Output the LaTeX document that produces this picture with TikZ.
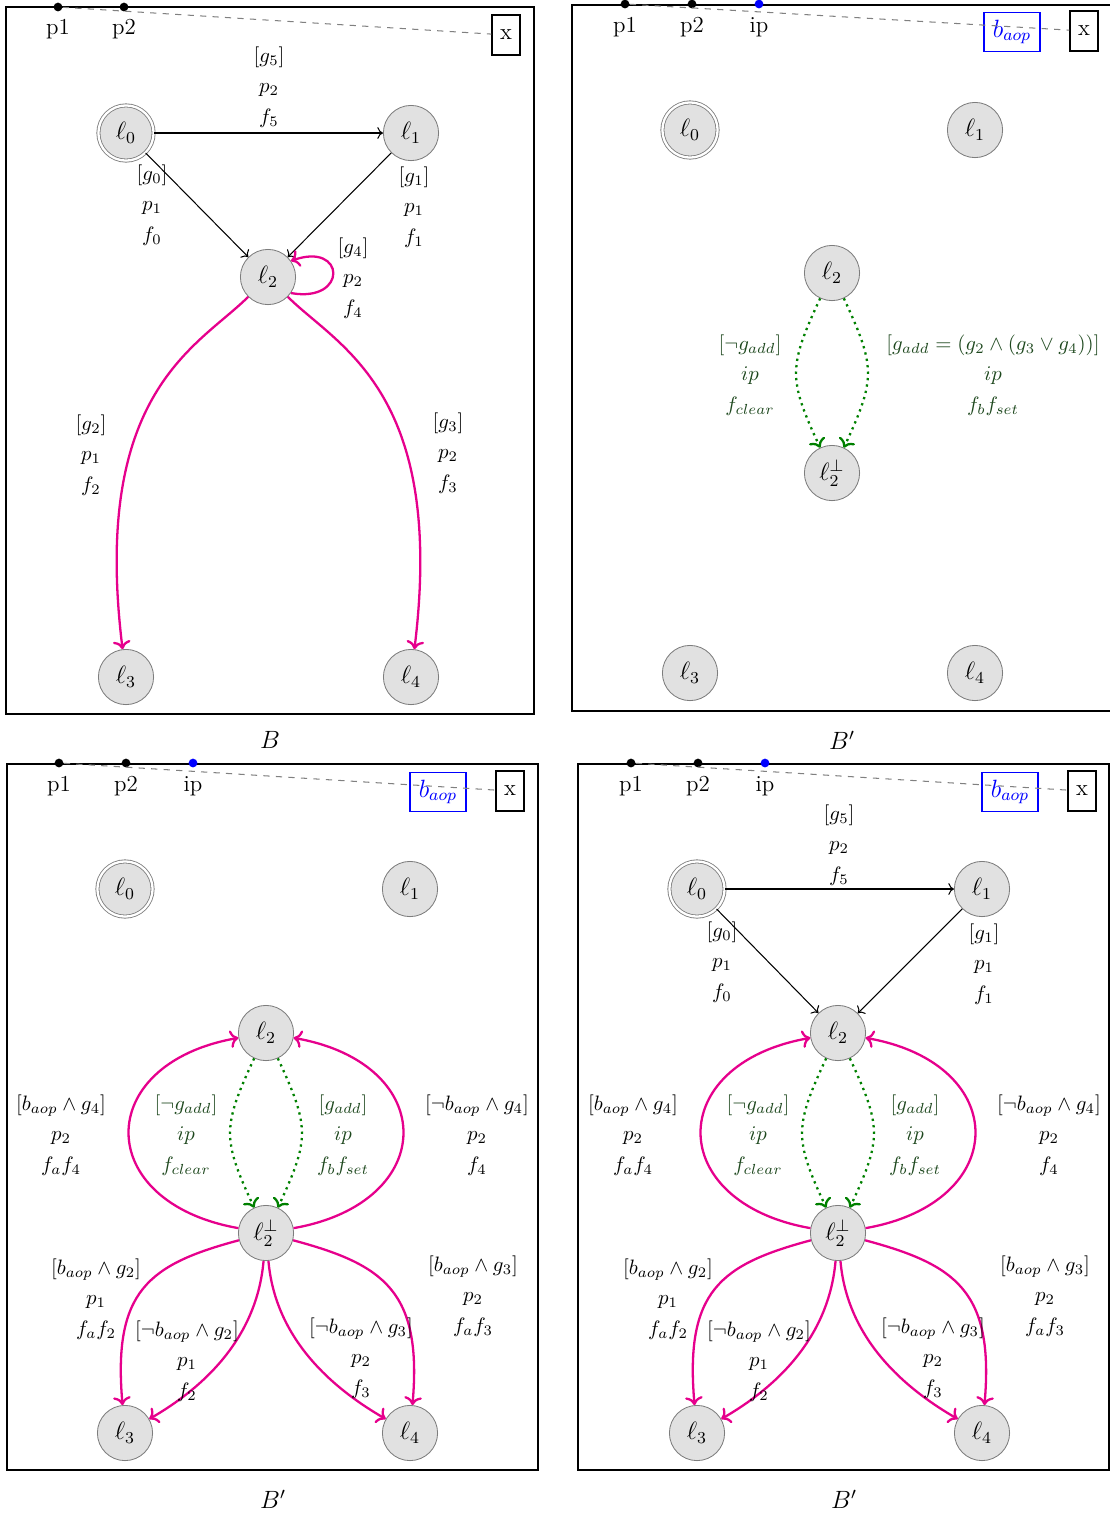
\documentclass[tikz,border=0pt]{standalone}
\usetikzlibrary{arrows.meta}
\definecolor{magc}{RGB}{230,0,140}
\definecolor{grnl}{RGB}{0,128,0}
\definecolor{grnt}{RGB}{30,72,30}
\definecolor{nodefill}{RGB}{225,225,225}
\definecolor{nodedraw}{RGB}{125,125,125}
\begin{document}
\begin{tikzpicture}[x=0.48pt,y=-0.48pt,
  loc/.style={circle,draw=nodedraw,fill=nodefill,minimum size=26.5pt,inner sep=0pt,font=\large},
  init/.style={loc,double=white,double distance=1.1pt},
  dotb/.style={circle,fill=black,inner sep=0pt,minimum size=4.2pt},
  dotblue/.style={dotb,fill=blue},
  toplbl/.style={font=\fontsize{11pt}{13pt}\selectfont,inner sep=1pt},
  xbox/.style={draw,line width=0.7pt,font=\fontsize{11pt}{13pt}\selectfont,minimum width=13.4pt,minimum height=19pt,inner sep=1pt},
  abox/.style={draw=blue,text=blue,line width=0.7pt,font=\large,minimum width=27pt,minimum height=18.5pt,inner sep=1pt},
  frm/.style={line width=0.7pt},
  dsh/.style={gray,dashed,line width=0.5pt},
  blk/.style={->,line width=0.5pt},
  mag/.style={->,magc,line width=1.1pt},
  grn/.style={->,grnl,dotted,line width=1.1pt},
  lbl/.style={align=center,font=\fontsize{10pt}{14.5pt}\selectfont,inner sep=0pt},
  glbl/.style={lbl,text=grnt},
  captxt/.style={font=\large}
]
\useasboundingbox (0,0) rectangle (1110,1515);

%% ================= Panel A =================
\draw[frm] (6,7) rectangle (534,714);
\node[dotb] (Ap1) at (58,7) {};
\node[dotb] (Ap2) at (124,7) {};
\node[toplbl] (Ap1l) at (58,29) {p1};
\node[toplbl] (Ap2l) at (124,29) {p2};
\node[xbox] (Ax) at (506,35) {x};
\draw[dsh] (Ap1) -- (Ax);
\node[init] (A0) at (126,133) {$\ell_0$};
\node[loc] (A1) at (411,133) {$\ell_1$};
\node[loc] (A2) at (268,277) {$\ell_2$};
\node[loc] (A3) at (126,677) {$\ell_3$};
\node[loc] (A4) at (411,677) {$\ell_4$};
\draw[blk] (A0) -- (A1);
\draw[blk] (A0) -- (A2);
\draw[blk] (A1) -- (A2);
\draw[mag] (A2.-35) to[out=-10,in=20,distance=28pt] (A2.35);
\draw[mag] (A2) to[out=225,in=97,out distance=33.6pt,in distance=125pt] (A3);
\draw[mag] (A2) to[out=-45,in=83,out distance=33.6pt,in distance=125pt] (A4);
\node[lbl] (Ag5) at (269,87) {$[g_5]$\\$p_2$\\$f_5$};
\node[lbl] (Ag0) at (152,205) {$[g_0]$\\$p_1$\\$f_0$};
\node[lbl] (Ag1) at (414,207) {$[g_1]$\\$p_1$\\$f_1$};
\node[lbl] (Ag4) at (353,278) {$[g_4]$\\$p_2$\\$f_4$};
\node[lbl] (Ag2) at (91,455) {$[g_2]$\\$p_1$\\$f_2$};
\node[lbl] (Ag3) at (448,453) {$[g_3]$\\$p_2$\\$f_3$};
\node[captxt] (Acap) at (270,740) {$B$};

%% ================= Panel B =================
\draw[frm] (572,5) rectangle (1125,711);
\node[dotb] (Bp1) at (625,4) {};
\node[dotb] (Bp2) at (692,4) {};
\node[dotblue] (Bip) at (759,4) {};
\node[toplbl] (Bp1l) at (625,27) {p1};
\node[toplbl] (Bp2l) at (692,27) {p2};
\node[toplbl] (Bipl) at (759,27) {ip};
\node[abox] (Bb) at (1012,32) {$b_{aop}$};
\node[xbox] (Bx) at (1084,31) {x};
\draw[dsh] (Bp1) -- (Bx);
\node[init] (B0) at (690,130) {$\ell_0$};
\node[loc] (B1) at (975,130) {$\ell_1$};
\node[loc] (B2) at (832,273) {$\ell_2$};
\node[loc] (B2b) at (832,473) {$\ell_2^{\perp}$};
\node[loc] (B3) at (690,673) {$\ell_3$};
\node[loc] (B4) at (975,673) {$\ell_4$};
\draw[grn] (B2) to[out=245,in=115,looseness=1.3] (B2b);
\draw[grn] (B2) to[out=-65,in=65,looseness=1.3] (B2b);
\node[glbl] (Bgl) at (750,375) {$[\neg g_{add}]$\\$ip$\\$f_{clear}$};
\node[glbl] (Bgr) at (993,375) {$[g_{add}=(g_2\wedge(g_3\vee g_4))]$\\$ip$\\$f_bf_{set}$};
\node[captxt] (Bcap) at (842,740) {$B'$};

%% ================= Panel C =================
\draw[frm] (7,764) rectangle (538,1470);
\node[dotb] (Cp1) at (59,763) {};
\node[dotb] (Cp2) at (126,763) {};
\node[dotblue] (Cip) at (193,763) {};
\node[toplbl] (Cp1l) at (59,786) {p1};
\node[toplbl] (Cp2l) at (126,786) {p2};
\node[toplbl] (Cipl) at (193,786) {ip};
\node[abox] (Cb) at (438,792) {$b_{aop}$};
\node[xbox] (Cx) at (510,791) {x};
\draw[dsh] (Cp1) -- (Cx);
\node[init] (C0) at (125,889) {$\ell_0$};
\node[loc] (C1) at (410,889) {$\ell_1$};
\node[loc] (C2) at (266,1033) {$\ell_2$};
\node[loc] (C2b) at (266,1233) {$\ell_2^{\perp}$};
\node[loc] (C3) at (125,1433) {$\ell_3$};
\node[loc] (C4) at (410,1433) {$\ell_4$};
\draw[grn] (C2) to[out=245,in=115,looseness=1.3] (C2b);
\draw[grn] (C2) to[out=-65,in=65,looseness=1.3] (C2b);
\draw[mag] (C2b) to[out=170,in=190,looseness=2] (C2);
\draw[mag] (C2b) to[out=10,in=-10,looseness=2] (C2);
\draw[mag] (C2b) to[out=195,in=95,out distance=45pt,in distance=55pt] (C3);
\draw[mag] (C2b) to[out=-95,in=30,out distance=38pt,in distance=29pt] (C3);
\draw[mag] (C2b) to[out=-85,in=150,out distance=38pt,in distance=29pt] (C4);
\draw[mag] (C2b) to[out=-15,in=85,out distance=45pt,in distance=55pt] (C4);
\node[lbl] (Cl4) at (61,1135) {$[b_{aop}\wedge g_4]$\\$p_2$\\$f_af_4$};
\node[glbl] (Cgl) at (186,1135) {$[\neg g_{add}]$\\$ip$\\$f_{clear}$};
\node[glbl] (Cgr) at (343,1135) {$[g_{add}]$\\$ip$\\$f_bf_{set}$};
\node[lbl] (Cr4) at (477,1135) {$[\neg b_{aop}\wedge g_4]$\\$p_2$\\$f_4$};
\node[lbl] (Cl2) at (96,1299) {$[b_{aop}\wedge g_2]$\\$p_1$\\$f_af_2$};
\node[lbl] (Cn2) at (187,1361) {$[\neg b_{aop}\wedge g_2]$\\$p_1$\\$f_2$};
\node[lbl] (Cn3) at (361,1358) {$[\neg b_{aop}\wedge g_3]$\\$p_2$\\$f_3$};
\node[lbl] (Cr3) at (473,1296) {$[b_{aop}\wedge g_3]$\\$p_2$\\$f_af_3$};
\node[captxt] (Ccap) at (273,1499) {$B'$};

%% ================= Panel D =================
\draw[frm] (578,764) rectangle (1109,1470);
\node[dotb] (Dp1) at (631,763) {};
\node[dotb] (Dp2) at (698,763) {};
\node[dotblue] (Dip) at (765,763) {};
\node[toplbl] (Dp1l) at (631,786) {p1};
\node[toplbl] (Dp2l) at (698,786) {p2};
\node[toplbl] (Dipl) at (765,786) {ip};
\node[abox] (Db) at (1010,792) {$b_{aop}$};
\node[xbox] (Dx) at (1082,791) {x};
\draw[dsh] (Dp1) -- (Dx);
\node[init] (D0) at (697,889) {$\ell_0$};
\node[loc] (D1) at (982,889) {$\ell_1$};
\node[loc] (D2) at (838,1033) {$\ell_2$};
\node[loc] (D2b) at (838,1233) {$\ell_2^{\perp}$};
\node[loc] (D3) at (697,1433) {$\ell_3$};
\node[loc] (D4) at (982,1433) {$\ell_4$};
\draw[blk] (D0) -- (D1);
\draw[blk] (D0) -- (D2);
\draw[blk] (D1) -- (D2);
\draw[grn] (D2) to[out=245,in=115,looseness=1.3] (D2b);
\draw[grn] (D2) to[out=-65,in=65,looseness=1.3] (D2b);
\draw[mag] (D2b) to[out=170,in=190,looseness=2] (D2);
\draw[mag] (D2b) to[out=10,in=-10,looseness=2] (D2);
\draw[mag] (D2b) to[out=195,in=95,out distance=45pt,in distance=55pt] (D3);
\draw[mag] (D2b) to[out=-95,in=30,out distance=38pt,in distance=29pt] (D3);
\draw[mag] (D2b) to[out=-85,in=150,out distance=38pt,in distance=29pt] (D4);
\draw[mag] (D2b) to[out=-15,in=85,out distance=45pt,in distance=55pt] (D4);
\node[lbl] (Dg5) at (839,845) {$[g_5]$\\$p_2$\\$f_5$};
\node[lbl] (Dg0) at (722,962) {$[g_0]$\\$p_1$\\$f_0$};
\node[lbl] (Dg1) at (984,964) {$[g_1]$\\$p_1$\\$f_1$};
\node[lbl] (Dl4) at (633,1135) {$[b_{aop}\wedge g_4]$\\$p_2$\\$f_af_4$};
\node[glbl] (Dgl) at (758,1135) {$[\neg g_{add}]$\\$ip$\\$f_{clear}$};
\node[glbl] (Dgr) at (915,1135) {$[g_{add}]$\\$ip$\\$f_bf_{set}$};
\node[lbl] (Dr4) at (1049,1135) {$[\neg b_{aop}\wedge g_4]$\\$p_2$\\$f_4$};
\node[lbl] (Dl2) at (668,1299) {$[b_{aop}\wedge g_2]$\\$p_1$\\$f_af_2$};
\node[lbl] (Dn2) at (759,1361) {$[\neg b_{aop}\wedge g_2]$\\$p_1$\\$f_2$};
\node[lbl] (Dn3) at (933,1358) {$[\neg b_{aop}\wedge g_3]$\\$p_2$\\$f_3$};
\node[lbl] (Dr3) at (1045,1296) {$[b_{aop}\wedge g_3]$\\$p_2$\\$f_af_3$};
\node[captxt] (Dcap) at (844,1499) {$B'$};
\end{tikzpicture}
\end{document}
